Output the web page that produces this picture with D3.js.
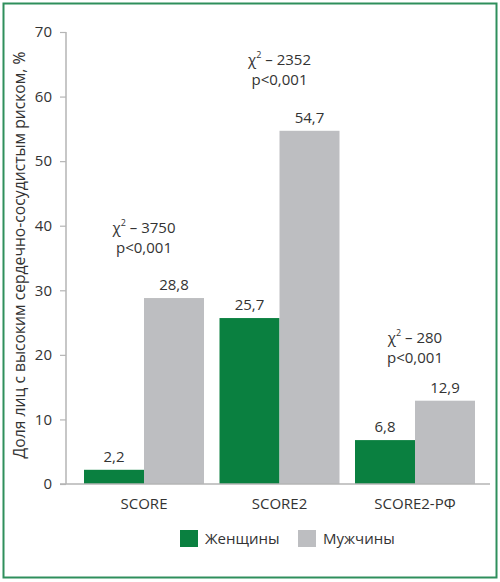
<!DOCTYPE html>
<html><head><meta charset="utf-8">
<script src="https://cdn.jsdelivr.net/npm/d3@7"></script>
<style>html,body{margin:0;padding:0;background:#fff;}svg{display:block;font-family:"Open Sans",sans-serif;}</style>
</head><body>
<svg id="c" width="500" height="582"></svg>
<script>
const categories = ["SCORE", "SCORE2", "SCORE2-РФ"];
const seriesNames = ["Женщины", "Мужчины"];
const women = [2.2, 25.7, 6.8];
const men = [28.8, 54.7, 12.9];
const chiValues = ["3750", "2352", "280"];
const pValues = ["p<0,001", "p<0,001", "p<0,001"];
const chiLevels = [38.9, 64.9, 21.8];
const yTicks = [0, 10, 20, 30, 40, 50, 60, 70];
const yTitle = "Доля лиц с высоким сердечно-сосудистым риском, %";

const colors = ["#0a8040", "#bdbec1"];
const textColor = "#333";
const svg = d3.select("#c");

svg.append("rect").attr("x", 3.5).attr("y", 3.5).attr("width", 493).attr("height", 574)
  .attr("fill", "#fff").attr("stroke", "#2f8f5c").attr("stroke-width", 2);

const y = d3.scaleLinear().domain([0, 70]).range([484, 32]);
const x = d3.scaleBand().domain(categories).range([84, 475]).paddingInner(15.5/135.5).paddingOuter(0);
const xs = d3.scaleBand().domain(seriesNames).range([0, x.bandwidth()]).padding(0);

// y axis
const yAxis = svg.append("g").attr("transform", "translate(66,0)")
  .call(d3.axisLeft(y).tickValues(yTicks).tickSize(6).tickPadding(8).tickFormat(d3.format("d")));
yAxis.select(".domain").attr("stroke", "#b5b5b5").attr("stroke-width", 1.5).attr("d", "M0,32V484");
yAxis.selectAll(".tick line").attr("stroke", "#b5b5b5").attr("stroke-width", 1.2);
yAxis.selectAll(".tick text").attr("font-size", 15).attr("fill", textColor).attr("font-family", "Open Sans");

// bars
const data = categories.map((c, i) => ({cat: c, vals: [women[i], men[i]]}));
const groups = svg.append("g").selectAll("g").data(data).join("g")
  .attr("transform", d => `translate(${x(d.cat)},0)`);
groups.selectAll("rect").data(d => d.vals.map((v, j) => ({v, s: seriesNames[j], j}))).join("rect")
  .attr("x", d => xs(d.s)).attr("width", xs.bandwidth())
  .attr("y", d => y(d.v)).attr("height", d => y(0) - y(d.v))
  .attr("fill", d => colors[d.j]);
groups.selectAll("text.val").data(d => d.vals.map((v, j) => ({v, s: seriesNames[j]}))).join("text")
  .attr("class", "val")
  .attr("x", d => xs(d.s) + xs.bandwidth()/2).attr("y", d => y(d.v) - 8)
  .attr("text-anchor", "middle").attr("font-size", 15).attr("fill", textColor)
  .text(d => String(d.v).replace(".", ","));

// x axis
const xAxis = svg.append("g").attr("transform", "translate(0,484)")
  .call(d3.axisBottom(x).tickSize(0).tickPadding(14));
xAxis.select(".domain").attr("stroke", "#b5b5b5").attr("stroke-width", 1.5).attr("d", "M60,0H490");
xAxis.selectAll(".tick text").attr("font-size", 15).attr("fill", textColor).attr("font-family", "Open Sans");

// chi annotations
categories.forEach((c, i) => {
  const cx = x(c) + x.bandwidth()/2;
  const t = svg.append("text").attr("x", cx).attr("y", y(chiLevels[i]))
    .attr("text-anchor", "middle").attr("font-size", 15).attr("fill", textColor);
  t.append("tspan").text("χ");
  t.append("tspan").attr("font-size", 9).attr("dy", -7).text("2");
  t.append("tspan").attr("dy", 7).text(" – " + chiValues[i]);
  svg.append("text").attr("x", cx).attr("y", y(chiLevels[i]) + 20)
    .attr("text-anchor", "middle").attr("font-size", 15).attr("fill", textColor).text(pValues[i]);
});

// y title
svg.append("text").attr("transform", "translate(25,255) rotate(-90)")
  .attr("text-anchor", "middle").attr("font-size", 15.7).attr("fill", textColor).text(yTitle);

// legend
const legX = [180, 298];
const leg = svg.append("g").selectAll("g").data(seriesNames).join("g")
  .attr("transform", (d, i) => `translate(${legX[i]},530)`);
leg.append("rect").attr("width", 18).attr("height", 17).attr("fill", (d, i) => colors[i]);
leg.append("text").attr("x", 25).attr("y", 14).attr("font-size", 15).attr("fill", textColor).text(d => d);
</script>
</body></html>
